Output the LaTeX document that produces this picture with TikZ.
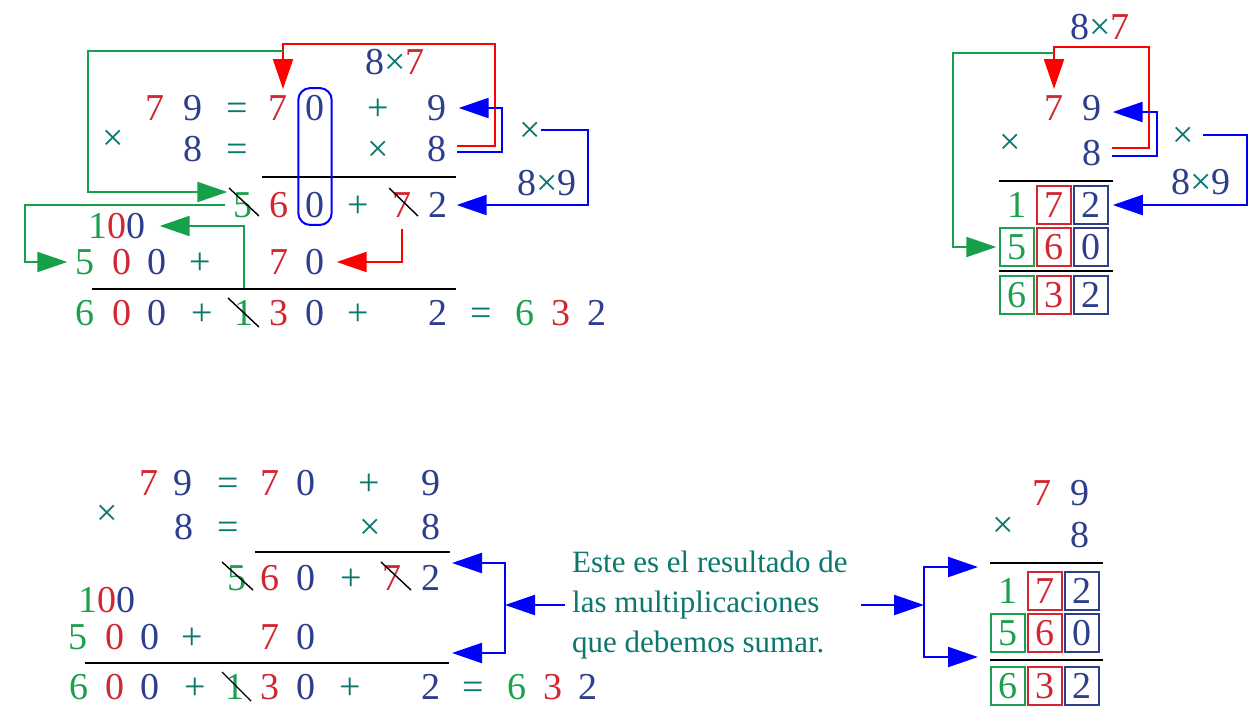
\documentclass[tikz,border=0pt]{standalone}
\usepackage{fontspec}
\setmainfont{Liberation Serif}
\usetikzlibrary{arrows.meta,calc,positioning}
\definecolor{numred}{RGB}{210,38,50}
\definecolor{numblue}{RGB}{44,62,140}
\definecolor{numteal}{RGB}{10,120,108}
\definecolor{numgreen}{RGB}{28,160,78}
\definecolor{arrgreen}{RGB}{22,160,74}

\begin{document}
\begin{tikzpicture}[x=1pt, y=-1pt,
	num/.style={inner sep=0pt, text height=25.5pt, text depth=0pt, font=\fontsize{38}{44}\selectfont},
	cell/.style={num, draw, line width=1.5pt, minimum width=34, minimum height=38},
	sumline/.style={line width=2pt},
	strike/.style={line width=1.4pt},
	arr/.style={line width=2.2pt, -{Triangle[length=30pt, width=20pt]}},
	redarr/.style={arr, color=red},
	bluarr/.style={arr, color=blue},
	grnarr/.style={arr, color=arrgreen}]
\useasboundingbox (0,0) rectangle (1258,705);

% top left: 79 x 8 split in tens and units
\node[num] (A87) at (395,62) {\textcolor{numblue}{8}\textcolor{numteal}{×}\textcolor{numred}{7}};
\foreach \x/\c/\t [count=\i] in {155/numred/7,193/numblue/9,237/numteal/=,278/numred/7,315/numblue/0,378/numteal/+,437/numblue/9}
	\node[num, text=\c] (A1-\i) at (\x,108) {\t};
\foreach \x/\c/\t [count=\i] in {193/numblue/8,237/numteal/=,378/numteal/×,437/numblue/8}
	\node[num, text=\c] (A2-\i) at (\x,149) {\t};
\node[num, text=numteal] (Ax1) at (113,138) {×};
\node[num, text=numteal] (Ax2) at (530,130) {×};
\node[num] (A89) at (547,183) {\textcolor{numblue}{8}\textcolor{numteal}{×}\textcolor{numblue}{9}};
\draw[sumline] (262,177) -- (456,177);
\foreach \x/\c/\t [count=\i] in {243/numgreen/5,279/numred/6,315/numblue/0,358/numteal/+,402/numred/7,438/numblue/2}
	\node[num, text=\c] (A3-\i) at (\x,205) {\t};
\node[num] (A100) at (117,226) {\textcolor{numgreen}{1}\textcolor{numred}{0}\textcolor{numblue}{0}};
\foreach \x/\c/\t [count=\i] in {85/numgreen/5,122/numred/0,157/numblue/0,200/numteal/+,279/numred/7,315/numblue/0}
	\node[num, text=\c] (A4-\i) at (\x,262) {\t};
\draw[sumline] (92,289) -- (456,289);
\foreach \x/\c/\t [count=\i] in {85/numgreen/6,122/numred/0,157/numblue/0,202/numteal/+,244/numgreen/1,279/numred/3,315/numblue/0,358/numteal/+,438/numblue/2,481/numteal/=,525/numgreen/6,561/numred/3,597/numblue/2}
	\node[num, text=\c] (A5-\i) at (\x,313) {\t};
\draw[blue, line width=2pt, rounded corners=12pt] ([shift={(-7,-7)}]A1-5.north west) rectangle ([shift={(7,7)}]A3-3.south east);
\draw[strike] ($(A3-1)+(-14,-17)$) -- ($(A3-1)+(16,11)$);
\draw[strike] ($(A3-5)+(-13,-17)$) -- ($(A3-5)+(16,11)$);
\draw[strike] ($(A5-5)+(-16,-15)$) -- ($(A5-5)+(15,14)$);
\coordinate (splitA) at (283,51);
\draw[redarr] ([xshift=10,yshift=3]A2-4.east) -- ++(38,0) -- ++(0,-102) -| ([xshift=5,yshift=6]A1-4.north);
\draw[grnarr] (splitA) -- ++(-195,0) |- ([xshift=-6,yshift=13]A3-1.west);
\draw[bluarr] ([xshift=10,yshift=-3]A2-4.east) -- ++(45,0) |- ([xshift=12]A1-7.east);
\draw[bluarr] (Ax2.east) -- ++(47,0) |- ([xshift=9]A3-6.east);
\draw[redarr] ([yshift=-11]A3-5.south) |- ([xshift=12]A4-6.east);
\draw[grnarr] ([xshift=-8]A3-1.west) -- ++(-200,0) |- ([xshift=-8]A4-1.west);
\draw[grnarr] ([yshift=12]A5-5.north) |- ([xshift=14]A100.east);

% top right: the same product in boxes
\node[num] (B87) at (1100,27) {\textcolor{numblue}{8}\textcolor{numteal}{×}\textcolor{numred}{7}};
\node[num, text=numred] (B1-1) at (1054,108) {7};
\node[num, text=numblue] (B1-2) at (1092,108) {9};
\node[num, text=numteal] (Bx1) at (1010,142) {×};
\node[num, text=numblue] (B2) at (1092,153) {8};
\node[num, text=numteal] (Bx2) at (1183,135) {×};
\node[num] (B89) at (1201,182) {\textcolor{numblue}{8}\textcolor{numteal}{×}\textcolor{numblue}{9}};
\draw[sumline] (999,181) -- (1113,181);
\node[num, text=numgreen] (Ba1) at (1017,205) {1};
\node[cell, draw=numred, text=numred] (Ba2) at (1054,205) {7};
\node[cell, draw=numblue, text=numblue] (Ba3) at (1091,205) {2};
\foreach \x/\c/\t [count=\i] in {1017/numgreen/5,1054/numred/6,1091/numblue/0}
	\node[cell, draw=\c, text=\c] (Bb\i) at (\x,247) {\t};
\draw[sumline, line width=2.8pt] (999,271) -- (1113,271);
\foreach \x/\c/\t [count=\i] in {1017/numgreen/6,1054/numred/3,1091/numblue/2}
	\node[cell, draw=\c, text=\c] (Bc\i) at (\x,295) {\t};
\coordinate (splitB) at (1054,53);
\draw[redarr] ([xshift=10,yshift=5]B2.east) -- ++(37,0) -- ++(0,-101) -| ([yshift=6]B1-1.north);
\draw[grnarr] (splitB) -- ++(-101,0) |- ([xshift=-3]Bb1.west);
\draw[bluarr] ([xshift=10,yshift=-3]B2.east) -- ++(45,0) |- ([xshift=11,yshift=-4]B1-2.east);
\draw[bluarr] ([xshift=9]Bx2.east) -- ++(44,0) |- ([xshift=4]Ba3.east);

% bottom left
\foreach \x/\c/\t [count=\i] in {149/numred/7,183/numblue/9,228/numteal/=,270/numred/7,306/numblue/0,369/numteal/+,431/numblue/9}
	\node[num, text=\c] (C1-\i) at (\x,483) {\t};
\foreach \x/\c/\t [count=\i] in {184/numblue/8,228/numteal/=,370/numteal/×,431/numblue/8}
	\node[num, text=\c] (C2-\i) at (\x,527) {\t};
\node[num, text=numteal] (Cx1) at (107,513) {×};
\draw[sumline] (255,552) -- (450,552);
\foreach \x/\c/\t [count=\i] in {237/numgreen/5,270/numred/6,306/numblue/0,351/numteal/+,392/numred/7,431/numblue/2}
	\node[num, text=\c] (C3-\i) at (\x,578) {\t};
\node[num] (C100) at (107,600) {\textcolor{numgreen}{1}\textcolor{numred}{0}\textcolor{numblue}{0}};
\foreach \x/\c/\t [count=\i] in {78/numgreen/5,115/numred/0,150/numblue/0,192/numteal/+,270/numred/7,306/numblue/0}
	\node[num, text=\c] (C4-\i) at (\x,637) {\t};
\draw[sumline] (85,663) -- (449,663);
\foreach \x/\c/\t [count=\i] in {79/numgreen/6,115/numred/0,150/numblue/0,195/numteal/+,235/numgreen/1,270/numred/3,306/numblue/0,350/numteal/+,431/numblue/2,473/numteal/=,517/numgreen/6,553/numred/3,588/numblue/2}
	\node[num, text=\c] (C5-\i) at (\x,687) {\t};
\draw[strike] ($(C3-1)+(-15,-16)$) -- ($(C3-1)+(16,12)$);
\draw[strike] ($(C3-5)+(-11,-16)$) -- ($(C3-5)+(19,12)$);
\draw[strike] ($(C5-5)+(-13,-15)$) -- ($(C5-5)+(16,14)$);

% note in the middle
\node[inner sep=0pt, anchor=west, align=left, text=numteal, font=\fontsize{31}{40}\selectfont] (expl) at (572,605)
	{Este es el resultado de\\las multiplicaciones\\que debemos sumar.};
\coordinate (brL) at (505,605);
\coordinate (sumA) at (452,563);
\coordinate (sumB) at (452,653);
\draw[bluarr] ([xshift=-7]expl.west) -- (brL);
\draw[bluarr] (brL) |- (sumA);
\draw[bluarr] (brL) |- (sumB);

% bottom right
\node[num, text=numred] (D1-1) at (1042,493) {7};
\node[num, text=numblue] (D1-2) at (1080,493) {9};
\node[num, text=numteal] (Dx1) at (1003,525) {×};
\node[num, text=numblue] (D2) at (1080,535) {8};
\draw[sumline] (990,563) -- (1103,563);
\node[num, text=numgreen] (Da1) at (1008,591) {1};
\node[cell, draw=numred, text=numred] (Da2) at (1045,591) {7};
\node[cell, draw=numblue, text=numblue] (Da3) at (1082,591) {2};
\foreach \x/\c/\t [count=\i] in {1008/numgreen/5,1045/numred/6,1082/numblue/0}
	\node[cell, draw=\c, text=\c] (Db\i) at (\x,633) {\t};
\draw[sumline, line width=2.8pt] (990,660) -- (1103,660);
\foreach \x/\c/\t [count=\i] in {1008/numgreen/6,1045/numred/3,1082/numblue/2}
	\node[cell, draw=\c, text=\c] (Dc\i) at (\x,686) {\t};
\coordinate (brR) at (924,605);
\coordinate (prodA) at (978,567);
\coordinate (prodB) at (978,657);
\draw[bluarr] ([xshift=13]expl.east) -- (brR);
\draw[bluarr] (brR) |- (prodA);
\draw[bluarr] (brR) |- (prodB);
\end{tikzpicture}
\end{document}
